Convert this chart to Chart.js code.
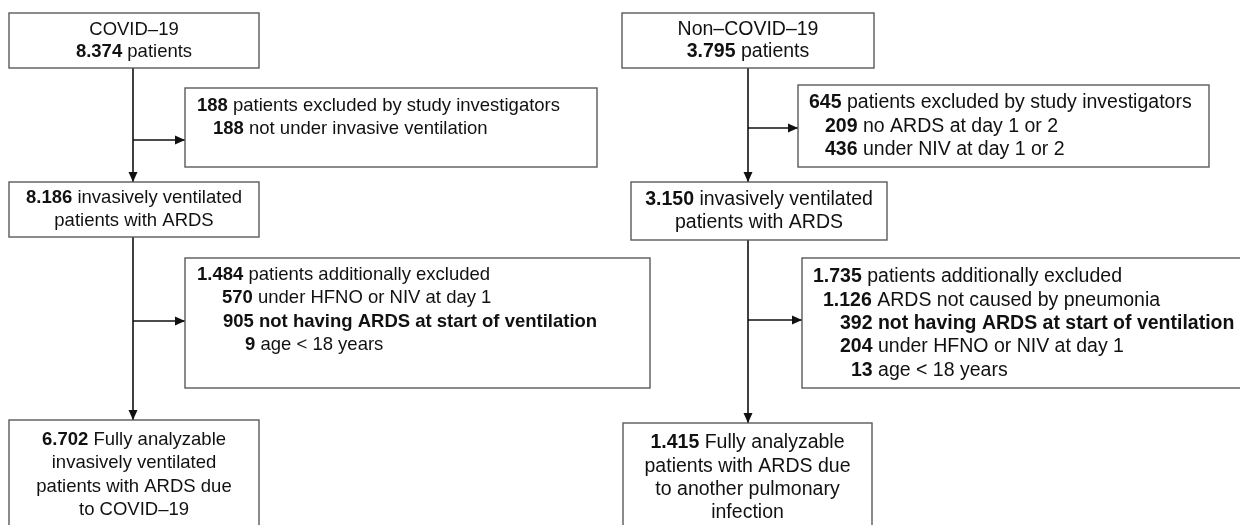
<!DOCTYPE html>
<html>
<head>
<meta charset="utf-8">
<script src="https://cdn.jsdelivr.net/npm/chart.js@4"></script>
<style>
  html, body { margin: 0; padding: 0; background: #fff; }
  #flow { display: block; }
</style>
</head>
<body>
<canvas id="flow" width="1240" height="525"></canvas>
<script>
// Counts and labels, left column = COVID-19, right column = non-COVID-19
const groups = ['COVID–19', 'Non–COVID–19'];
const totalPatients = ['8.374', '3.795'];
const investigatorExcluded = ['188', '645'];
const investigatorReasons = [
    [['188', 'not under invasive ventilation']],
    [['209', 'no ARDS at day 1 or 2'], ['436', 'under NIV at day 1 or 2']]
];
const ventilated = ['8.186', '3.150'];
const additionallyExcluded = ['1.484', '1.735'];
const additionalReasons = [
    [['570', 'under HFNO or NIV at day 1'], ['905', 'not having ARDS at start of ventilation'], ['9', 'age < 18 years']],
    [['1.126', 'ARDS not caused by pneumonia'], ['392', 'not having ARDS at start of ventilation'],
     ['204', 'under HFNO or NIV at day 1'], ['13', 'age < 18 years']]
];
const boldReason = 'not having ARDS at start of ventilation';
const analyzable = ['6.702', '1.415'];
const analyzableText = [
    ['Fully analyzable', 'invasively ventilated', 'patients with ARDS due', 'to COVID–19'],
    ['Fully analyzable', 'patients with ARDS due', 'to another pulmonary', 'infection']
];

// Layout (pixel units of the 1240x525 canvas; the scales map 1:1)
const layout = [
    {
        font: 18.5, trunkX: 133, branchY: [140, 321],
        start: [9, 13, 259, 68],
        excl1: [185, 88, 597, 167], excl1X: [197, 213], excl1Y: 106,
        vent: [9, 182, 259, 237],
        excl2: [185, 258, 650, 388], excl2X: [197, 222, 223, 245], excl2Y: 275,
        final: [9, 420, 259, 545]
    },
    {
        font: 19.5, trunkX: 748, branchY: [128, 320],
        start: [622, 13, 874, 68],
        excl1: [798, 85, 1209, 167], excl1X: [809, 825, 825], excl1Y: 103,
        vent: [631, 182, 887, 240],
        excl2: [802, 258, 1250, 388], excl2X: [813, 823, 840, 840, 851], excl2Y: 277,
        final: [623, 423, 872, 545]
    }
];

const LINE_H = 23.3;
const TEXT_COLOR = '#111';
const BOX_COLOR = '#5a5a5a';

// connector segments: [x1, y1, x2, y2, arrow]
const connectors = [];
layout.forEach(c => {
    connectors.push([c.trunkX, c.start[3], c.trunkX, c.vent[1], true]);
    connectors.push([c.trunkX, c.vent[3], c.trunkX, c.final[1], true]);
    connectors.push([c.trunkX, c.branchY[0], c.excl1[0], c.branchY[0], true]);
    connectors.push([c.trunkX, c.branchY[1], c.excl2[0], c.branchY[1], true]);
});

const datasets = connectors.map(s => ({
    data: [{ x: s[0], y: s[1] }, { x: s[2], y: s[3] }],
    showLine: true,
    borderColor: '#111',
    borderWidth: 1.6,
    pointRadius: 0,
    fill: false
}));

// draws a line made of [text, bold] pieces
const drawRich = (ctx, pieces, x, y, size, align) => {
    const fontOf = b => `${b ? 'bold ' : ''}${size}px "Liberation Sans", Arial, sans-serif`;
    let total = 0;
    pieces.forEach(p => { ctx.font = fontOf(p[1]); total += ctx.measureText(p[0]).width; });
    let cx = align === 'center' ? x - total / 2 : x;
    pieces.forEach(p => {
        ctx.font = fontOf(p[1]);
        ctx.fillText(p[0], cx, y);
        cx += ctx.measureText(p[0]).width;
    });
};

const flowPlugin = {
    id: 'flow',
    afterDatasetsDraw(chart) {
        const ctx = chart.ctx;
        const xs = chart.scales.x, ys = chart.scales.y;
        const px = v => xs.getPixelForValue(v);
        const py = v => ys.getPixelForValue(v);

        const box = r => {
            ctx.save();
            ctx.strokeStyle = BOX_COLOR;
            ctx.lineWidth = 1.4;
            ctx.strokeRect(px(r[0]), py(r[1]), px(r[2]) - px(r[0]), py(r[3]) - py(r[1]));
            ctx.restore();
        };

        // arrow heads
        ctx.save();
        ctx.fillStyle = '#111';
        connectors.forEach(s => {
            if (!s[4]) return;
            const x = px(s[2]), y = py(s[3]);
            ctx.beginPath();
            if (s[0] === s[2]) {
                ctx.moveTo(x, y); ctx.lineTo(x - 4.5, y - 10); ctx.lineTo(x + 4.5, y - 10);
            } else {
                ctx.moveTo(x, y); ctx.lineTo(x - 10, y - 4.5); ctx.lineTo(x - 10, y + 4.5);
            }
            ctx.closePath();
            ctx.fill();
        });
        ctx.restore();

        ctx.save();
        ctx.fillStyle = TEXT_COLOR;
        ctx.textBaseline = 'middle';
        layout.forEach((c, i) => {
            const f = c.font;
            [c.start, c.excl1, c.vent, c.excl2, c.final].forEach(box);

            // start box
            const sx = px((c.start[0] + c.start[2]) / 2);
            drawRich(ctx, [[groups[i], false]], sx, py(30), f, 'center');
            drawRich(ctx, [[totalPatients[i], true], [' patients', false]], sx, py(52), f, 'center');

            // first exclusion
            const e1 = [[[investigatorExcluded[i], true], [' patients excluded by study investigators', false]]];
            investigatorReasons[i].forEach(r => e1.push([[r[0], true], [' ' + r[1], false]]));
            e1.forEach((ln, k) => drawRich(ctx, ln, px(c.excl1X[k]), py(c.excl1Y + k * LINE_H), f, 'left'));

            // ventilated
            const vx = px((c.vent[0] + c.vent[2]) / 2);
            const vy = (c.vent[1] + c.vent[3]) / 2;
            drawRich(ctx, [[ventilated[i], true], [' invasively ventilated', false]], vx, py(vy - 11.5), f, 'center');
            drawRich(ctx, [['patients with ARDS', false]], vx, py(vy + 11.5), f, 'center');

            // second exclusion
            const e2 = [[[additionallyExcluded[i], true], [' patients additionally excluded', false]]];
            additionalReasons[i].forEach(r => e2.push([[r[0], true], [' ' + r[1], r[1] === boldReason]]));
            e2.forEach((ln, k) => drawRich(ctx, ln, px(c.excl2X[k]), py(c.excl2Y + k * LINE_H), f, 'left'));

            // analyzable
            const fx = px((c.final[0] + c.final[2]) / 2);
            analyzableText[i].forEach((t, k) => {
                const ln = k === 0 ? [[analyzable[i], true], [' ' + t, false]] : [[t, false]];
                drawRich(ctx, ln, fx, py(c.final[1] + 20 + k * LINE_H), f, 'center');
            });
        });
        ctx.restore();
    }
};

new Chart(document.getElementById('flow').getContext('2d'), {
    type: 'scatter',
    data: { datasets },
    options: {
        responsive: false,
        animation: false,
        layout: { padding: 0 },
        plugins: { legend: { display: false }, tooltip: { enabled: false } },
        scales: {
            x: { type: 'linear', min: 0, max: 1240, display: false },
            y: { type: 'linear', min: 0, max: 525, reverse: true, display: false }
        }
    },
    plugins: [flowPlugin]
});
</script>
</body>
</html>
